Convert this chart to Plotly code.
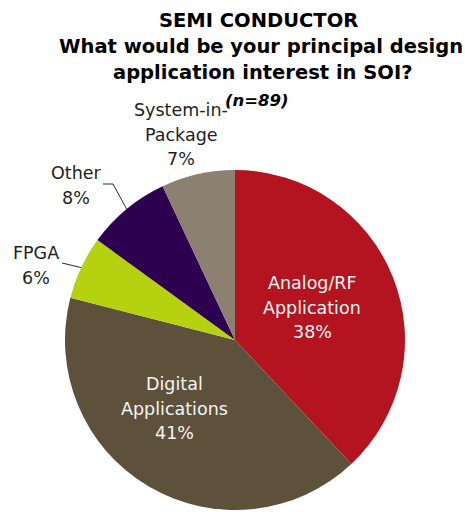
import math
import plotly.graph_objects as go

# Survey answers (percent of respondents, n=89)
categories = ["Analog/RF Application", "Digital Applications", "FPGA", "Other", "System-in-Package"]
shares = [38, 41, 6, 8, 7]
label_lines = [["Analog/RF", "Application"], ["Digital", "Applications"], ["FPGA"], ["Other"], ["System-in-", "Package"]]
slice_colors = ["#B3141F", "#5E513C", "#B5D10F", "#2E0050", "#8C8171"]

W, H = 465, 512
FONT = "DejaVu Sans"


def px(x):
    return x / W


def py(y):
    return 1 - y / H


# pie geometry in pixels
CX, CY, R = 235, 340, 170

fig = go.Figure(
    go.Pie(
        labels=categories,
        values=shares,
        sort=False,
        direction="clockwise",
        rotation=0,
        marker=dict(colors=slice_colors, line=dict(width=0)),
        textinfo="none",
        hoverinfo="label+percent",
        domain=dict(x=[px(CX - R), px(CX + R)], y=[py(CY + R), py(CY - R)]),
        showlegend=False,
    )
)

annotations = []


def add_text(text, x, y, size, color="#000000"):
    annotations.append(
        dict(
            text=text, x=px(x), y=py(y), xref="paper", yref="paper",
            xanchor="center", yanchor="middle", showarrow=False,
            font=dict(family=FONT, size=size, color=color),
        )
    )


# title block
add_text("<b>SEMI CONDUCTOR</b>", 258, 20, 19.5)
add_text("<b>What would be your principal design</b>", 261, 46, 19.5)
add_text("<b>application interest in SOI?</b>", 262, 72, 19.5)
add_text("<b><i>(n=89)</i></b>", 257, 100, 16.5)

# slice labels: centre x, centre y of the first line, colour
label_pos = [
    (312, 283, "#F4F4F4"),
    (174, 384, "#F4F4F4"),
    (36, 253, "#1E1E1E"),
    (76, 173, "#1E1E1E"),
    (181, 110, "#1E1E1E"),
]
LINE_GAP = 24.5
for lines, v, (x, y, c) in zip(label_lines, shares, label_pos):
    for i, t in enumerate(lines + [f"{v}%"]):
        add_text(t, x, y + i * LINE_GAP, 17.5, c)

# leader lines from outside labels to the middle of their slices
total = sum(shares)
mid_angle = []
acc = 0
for v in shares:
    mid_angle.append((acc + v / 2) / total * 2 * math.pi)
    acc += v


def edge_point(k):
    a = mid_angle[k]
    return CX + R * math.sin(a), CY - R * math.cos(a)


shapes = []
leader_start = {2: [(62, 263)], 3: [(103, 184), (113, 184)]}
for k, pts in leader_start.items():
    ex, ey = edge_point(k)
    path_pts = pts + [(ex, ey)]
    d = "M " + " L ".join(f"{px(x)},{py(y)}" for x, y in path_pts)
    shapes.append(
        dict(type="path", path=d, xref="paper", yref="paper",
             line=dict(color="#2A2A2A", width=1))
    )

fig.update_layout(
    width=W,
    height=H,
    margin=dict(l=0, r=0, t=0, b=0),
    paper_bgcolor="white",
    plot_bgcolor="white",
    annotations=annotations,
    shapes=shapes,
)

fig.write_html("out.html")
